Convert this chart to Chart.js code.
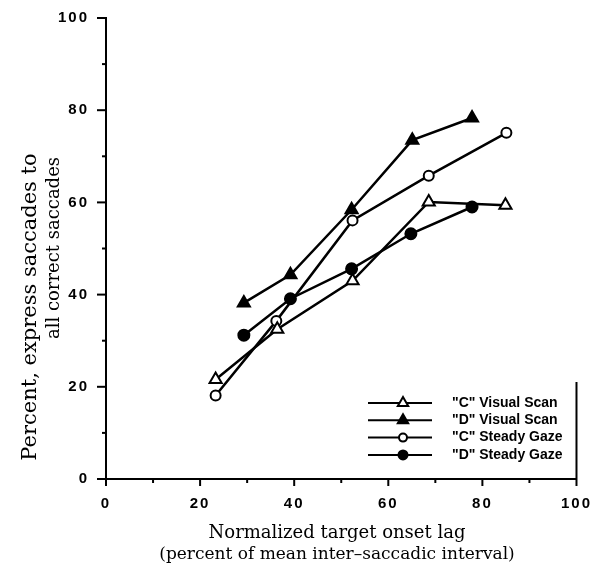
<!DOCTYPE html>
<html>
<head>
<meta charset="utf-8">
<script src="https://cdn.jsdelivr.net/npm/chart.js@4.4.1/dist/chart.umd.min.js"></script>
<style>
  html, body { margin: 0; padding: 0; background: #fff; }
  #chart { display: block; }
</style>
</head>
<body>
<canvas id="chart" width="597" height="573"></canvas>
<script>
// values
const seriesNames = ['"C" Visual Scan', '"D" Visual Scan', '"C" Steady Gaze', '"D" Steady Gaze'];

const cScanX = [23.3, 36.4, 52.4, 68.6, 84.9];
const cScanY = [21.6, 32.5, 43.0, 60.1, 59.4];
const dScanX = [29.3, 39.2, 52.2, 65.1, 77.8];
const dScanY = [38.2, 44.3, 58.4, 73.5, 78.3];
const cGazeX = [23.3, 36.2, 52.4, 68.6, 85.1];
const cGazeY = [18.1, 34.3, 56.1, 65.8, 75.1];
const dGazeX = [29.3, 39.2, 52.2, 64.8, 77.8];
const dGazeY = [31.2, 39.1, 45.6, 53.2, 59.0];

const axisMin = 0;
const axisMax = 100;
const minorStep = 10;
const labelStep = 20;

const xTitle = ['Normalized target onset lag', '(percent of mean inter\u2013saccadic interval)'];
const yTitle = ['Percent, express saccades to', 'all correct saccades'];

const toPoints = (xs, ys) => xs.map((x, i) => ({ x: x, y: ys[i] }));

const markerStyles = [
  { pointStyle: 'triangle', fill: '#fff', radius: 7 },
  { pointStyle: 'triangle', fill: '#000', radius: 7 },
  { pointStyle: 'circle', fill: '#fff', radius: 5 },
  { pointStyle: 'circle', fill: '#000', radius: 5.5 }
];

const seriesData = [
  toPoints(cScanX, cScanY),
  toPoints(dScanX, dScanY),
  toPoints(cGazeX, cGazeY),
  toPoints(dGazeX, dGazeY)
];

// ticks, titles and the little legend box are drawn by hand to look like the paper figure
const paperPlugin = {
  id: 'paperLook',
  beforeDraw(chart) {
    chart.ctx.letterSpacing = '2px';
  },
  afterDraw(chart) {
    const ctx = chart.ctx;
    const xs = chart.scales.x;
    const ys = chart.scales.y;
    const area = chart.chartArea;
    ctx.save();
    ctx.letterSpacing = '0px';
    ctx.strokeStyle = '#000';
    ctx.fillStyle = '#000';
    ctx.lineWidth = 2;

    // tick marks, long ones at the labelled values
    xs.ticks.forEach(t => {
      const px = xs.getPixelForValue(t.value);
      const len = t.value % labelStep === 0 ? 7 : 4;
      ctx.beginPath();
      ctx.moveTo(px, area.bottom);
      ctx.lineTo(px, area.bottom + len);
      ctx.stroke();
    });
    ys.ticks.forEach(t => {
      const py = ys.getPixelForValue(t.value);
      const len = t.value % labelStep === 0 ? 9 : 4;
      ctx.beginPath();
      ctx.moveTo(area.left, py);
      ctx.lineTo(area.left - len, py);
      ctx.stroke();
    });

    // axis titles
    ctx.textAlign = 'center';
    ctx.textBaseline = 'middle';
    ctx.font = '18px "DejaVu Serif"';
    ctx.fillText(xTitle[0], 337, 533);
    ctx.font = '17px "DejaVu Serif"';
    ctx.fillText(xTitle[1], 337, 555);

    ctx.save();
    ctx.translate(31, 307);
    ctx.rotate(-Math.PI / 2);
    ctx.font = '21px "DejaVu Serif"';
    ctx.fillText(yTitle[0], 0, 0);
    ctx.restore();
    ctx.save();
    ctx.translate(54, 248);
    ctx.rotate(-Math.PI / 2);
    ctx.font = '18px "DejaVu Serif"';
    ctx.fillText(yTitle[1], 0, 0);
    ctx.restore();

    // legend
    const boxX = 368;
    chart.data.datasets.forEach((ds, i) => {
      const y = 403 + i * 17.3;
      ctx.lineWidth = 2;
      ctx.beginPath();
      ctx.moveTo(boxX, y);
      ctx.lineTo(boxX + 64, y);
      ctx.stroke();
      ctx.fillStyle = ds.pointBackgroundColor;
      ctx.strokeStyle = '#000';
      Chart.helpers.drawPoint(ctx, {
        pointStyle: ds.pointStyle,
        radius: ds.pointRadius - 1,
        rotation: 0,
        borderWidth: 2
      }, boxX + 35, y);
      ctx.fillStyle = '#000';
      ctx.font = 'bold 14px "Liberation Sans"';
      ctx.textAlign = 'left';
      ctx.fillText(ds.label, 452, y);
    });

    // right edge of the legend box
    ctx.lineWidth = 2;
    ctx.beginPath();
    ctx.moveTo(area.right, 382);
    ctx.lineTo(area.right, area.bottom);
    ctx.stroke();

    ctx.restore();
  }
};

const tickFont = { family: '"Liberation Sans"', weight: 'bold', size: 15 };

new Chart(document.getElementById('chart'), {
  type: 'line',
  data: {
    datasets: seriesData.map((pts, i) => ({
      label: seriesNames[i],
      data: pts,
      borderColor: '#000',
      borderWidth: 2.5,
      pointStyle: markerStyles[i].pointStyle,
      pointRadius: markerStyles[i].radius,
      pointBackgroundColor: markerStyles[i].fill,
      pointBorderColor: '#000',
      pointBorderWidth: 2,
      tension: 0,
      fill: false
    }))
  },
  options: {
    responsive: false,
    animation: false,
    layout: { padding: { top: 14, right: 19, left: 0, bottom: 0 } },
    plugins: {
      legend: { display: false },
      tooltip: { enabled: false }
    },
    scales: {
      x: {
        type: 'linear',
        min: axisMin,
        max: axisMax,
        grid: { display: false },
        border: { display: true, color: '#000', width: 2 },
        ticks: {
          stepSize: minorStep,
          autoSkip: false,
          maxRotation: 0,
          padding: 8,
          color: '#000',
          font: tickFont,
          callback: v => (v % labelStep === 0 ? v : '')
        },
        afterFit: s => { s.height = 94; }
      },
      y: {
        type: 'linear',
        min: axisMin,
        max: axisMax,
        grid: { display: false },
        border: { display: true, color: '#000', width: 2 },
        ticks: {
          stepSize: minorStep,
          autoSkip: false,
          padding: 9,
          color: '#000',
          font: tickFont,
          callback: v => (v % labelStep === 0 ? v : '')
        },
        afterFit: s => { s.width = 106; }
      }
    }
  },
  plugins: [paperPlugin]
});
</script>
</body>
</html>
